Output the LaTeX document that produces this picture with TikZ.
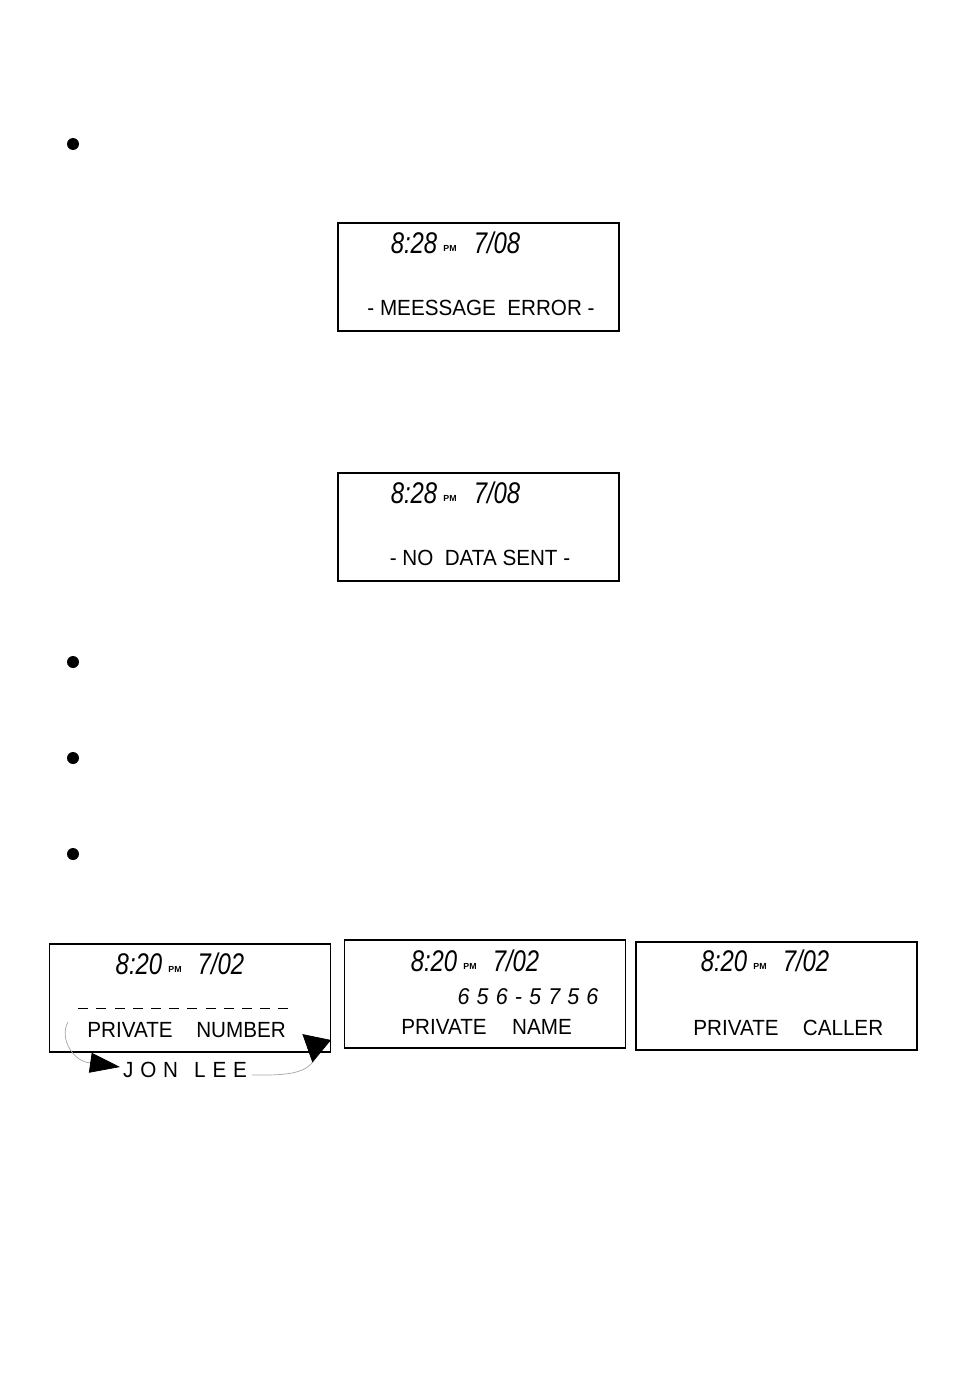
\documentclass[tikz,border=0pt]{standalone}
\usepackage{fontspec}
\setmainfont{Liberation Sans}
\usetikzlibrary{arrows.meta}
\tikzset{
    lcd/.style={draw, thick, rectangle, minimum width=5.62cm, minimum height=2.16cm, inner sep=0cm},
    clock/.style={font=\fontsize{17}{17}\selectfont\itshape, xscale=0.8, inner sep=0cm},
    pm/.style={font=\fontsize{5}{5}\selectfont\bfseries, inner sep=0cm},
    msg/.style={font=\fontsize{12.5}{12.5}\selectfont, xscale=0.94, inner sep=0cm},
    bullet/.style={circle, fill=black, inner sep=0cm, minimum size=0.24cm}
}
\begin{document}
\begin{tikzpicture}[x=0.02cm, y=-0.02cm]
    \useasboundingbox (0,0) rectangle (954,1392);

    \node[bullet] (b1) at (73,144) {};
    \node[bullet] (b2) at (73,662) {};
    \node[bullet] (b3) at (73,758) {};
    \node[bullet] (b4) at (73,854) {};

    % upper displays
    \node[lcd] (lcd1) at (478.5,277) {};
    \node[clock] (t1) at (414,243) {8:28};
    \node[pm] (p1) at (450,248) {PM};
    \node[clock] (d1) at (497,243) {7/08};
    \node[msg] (m1) at (481,308) {- MEESSAGE\ \ ERROR -};

    \node[lcd] (lcd2) at (478.5,527) {};
    \node[clock] (t2) at (414,493) {8:28};
    \node[pm] (p2) at (450,498) {PM};
    \node[clock] (d2) at (497,493) {7/08};
    \node[msg] (m2) at (480,558) {- NO\ \ DATA SENT -};

    % bottom row
    \node[lcd] (lcdA) at (190,998) {};
    \node[clock] (tA) at (139,964) {8:20};
    \node[pm] (pA) at (175,969) {PM};
    \node[clock] (dA) at (221,964) {7/02};
    \foreach \x in {78,96,115,133,151,169,187,206,224,242,260,278}
        \draw (\x,1008) -- ++(10,0);
    \node[msg] (n1) at (130,1030) {PRIVATE};
    \node[msg] (n2) at (241,1030) {NUMBER};
    \node[msg] (jl) at (185,1070) {J\,\,O\,\,N\,\,\ \,L\,\,E\,\,E};

    \coordinate (la) at (68,1022);
    \coordinate (lb) at (120,1067);
    \coordinate (ra) at (252,1075);
    \coordinate (rb) at (331,1040);
    \draw[gray!70] (la) to[out=-120, in=180] (92,1063);
    \draw[-{Triangle[length=0.6cm, width=0.4cm]}, black] (92,1063) -- (lb);
    \draw[gray!70] (ra) to[out=0, in=-90] (316,1050);
    \draw[-{Triangle[length=0.5cm, width=0.6cm]}, black] (314,1046) -- (rb);

    \node[lcd] (lcdB) at (485,994) {};
    \node[clock] (tB) at (434,961) {8:20};
    \node[pm] (pB) at (470,966) {PM};
    \node[clock] (dB) at (516,961) {7/02};
    \node[msg, font=\fontsize{13}{13}\selectfont\itshape] (nb) at (528,997) {6\,\,5\,\,6\,\,-\,\,5\,\,7\,\,5\,\,6};
    \node[msg] (n3) at (444,1027) {PRIVATE};
    \node[msg] (n4) at (542,1027) {NAME};

    \node[lcd] (lcdC) at (776.5,996) {};
    \node[clock] (tC) at (724,961) {8:20};
    \node[pm] (pC) at (760,966) {PM};
    \node[clock] (dC) at (806,961) {7/02};
    \node[msg] (n5) at (736,1028) {PRIVATE};
    \node[msg] (n6) at (843,1028) {CALLER};
\end{tikzpicture}
\end{document}
